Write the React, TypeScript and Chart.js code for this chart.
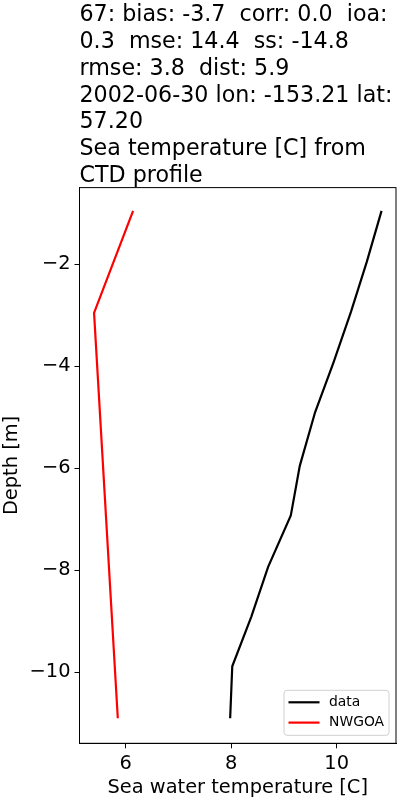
import React, { useEffect, useRef } from "react";
import { Chart, registerables } from "chart.js";

Chart.register(...registerables);

const titleLines = [
  "67: bias: -3.7  corr: 0.0  ioa:",
  "0.3  mse: 14.4  ss: -14.8",
  "rmse: 3.8  dist: 5.9",
  "2002-06-30 lon: -153.21 lat:",
  "57.20",
  "Sea temperature [C] from",
  "CTD profile",
];

const dataDepth = [-0.95, -1.95, -2.93, -3.92, -4.9, -5.95, -6.92, -7.93, -8.91, -9.88, -10.9];
const dataTemp = [10.85, 10.57, 10.27, 9.94, 9.59, 9.3, 9.13, 8.7, 8.38, 8.02, 7.98];
const modelDepth = [-0.95, -2.95, -10.9];
const modelTemp = [6.14, 5.4, 5.85];

const xTicks = [6, 8, 10];
const yTicks = [-10, -8, -6, -4, -2];
const xLabel = "Sea water temperature [C]";
const yLabel = "Depth [m]";
const seriesNames = ["data", "NWGOA"];
const seriesColors = ["#000000", "#ff0000"];

const FONT = "'DejaVu Sans', sans-serif";

const framePlugin = {
  id: "frame",
  afterDatasetsDraw(chart: any) {
    const { ctx, chartArea: a } = chart;
    ctx.save();
    ctx.strokeStyle = "#000";
    ctx.lineWidth = 1;
    ctx.strokeRect(a.left, a.top, a.right - a.left, a.bottom - a.top);

    // legend (lower right)
    const w = 105;
    const h = 45;
    const x0 = a.right - 7 - w;
    const y0 = a.bottom - 8 - h;
    const r = 3;
    ctx.beginPath();
    ctx.moveTo(x0 + r, y0);
    ctx.lineTo(x0 + w - r, y0);
    ctx.quadraticCurveTo(x0 + w, y0, x0 + w, y0 + r);
    ctx.lineTo(x0 + w, y0 + h - r);
    ctx.quadraticCurveTo(x0 + w, y0 + h, x0 + w - r, y0 + h);
    ctx.lineTo(x0 + r, y0 + h);
    ctx.quadraticCurveTo(x0, y0 + h, x0, y0 + h - r);
    ctx.lineTo(x0, y0 + r);
    ctx.quadraticCurveTo(x0, y0, x0 + r, y0);
    ctx.closePath();
    ctx.fillStyle = "rgba(255,255,255,0.8)";
    ctx.fill();
    ctx.strokeStyle = "#d0d0d0";
    ctx.stroke();

    ctx.font = `13.9px ${FONT}`;
    ctx.textBaseline = "middle";
    ctx.textAlign = "left";
    chart.data.datasets.forEach((ds: any, i: number) => {
      const yy = y0 + 12 + i * 20.3;
      ctx.strokeStyle = ds.borderColor;
      ctx.lineWidth = 2.2;
      ctx.beginPath();
      ctx.moveTo(x0 + 4.5, yy);
      ctx.lineTo(x0 + 35.5, yy);
      ctx.stroke();
      ctx.fillStyle = "#000";
      ctx.fillText(ds.label, x0 + 45, yy);
    });
    ctx.restore();
  },
};

export default function App() {
  const ref = useRef<HTMLCanvasElement | null>(null);

  useEffect(() => {
    if (!ref.current) return;
    const fmt = (v: number) => String(v).replace("-", "\u2212");
    const chart = new Chart(ref.current, {
      type: "scatter",
      data: {
        datasets: [
          {
            label: seriesNames[0],
            data: dataDepth.map((d, i) => ({ x: dataTemp[i], y: d })),
            showLine: true,
            borderColor: seriesColors[0],
            backgroundColor: seriesColors[0],
            borderWidth: 2.2,
            pointRadius: 0,
            tension: 0,
          },
          {
            label: seriesNames[1],
            data: modelDepth.map((d, i) => ({ x: modelTemp[i], y: d })),
            showLine: true,
            borderColor: seriesColors[1],
            backgroundColor: seriesColors[1],
            borderWidth: 2.2,
            pointRadius: 0,
            tension: 0,
          },
        ],
      },
      options: {
        responsive: false,
        animation: false,
        layout: { padding: { left: 0, right: 4, top: 0, bottom: 0 } },
        plugins: {
          legend: { display: false },
          tooltip: { enabled: false },
          title: {
            display: true,
            text: titleLines,
            align: "start",
            fullSize: false,
            color: "#000",
            font: { family: FONT, size: 22.2, weight: "normal", lineHeight: 26.8 / 22.2 },
            padding: { top: 2, bottom: -2 },
          },
        },
        scales: {
          x: {
            type: "linear",
            min: 5.124,
            max: 11.124,
            afterBuildTicks: (s: any) => {
              s.ticks = xTicks.map((v) => ({ value: v }));
            },
            afterFit: (s: any) => {
              s.height = 56.7;
            },
            ticks: {
              color: "#000",
              font: { family: FONT, size: 19.4 },
              padding: 4,
              maxRotation: 0,
              callback: (v: any) => fmt(v),
            },
            grid: {
              display: true,
              drawOnChartArea: false,
              drawTicks: true,
              tickLength: 5,
              tickColor: "#000",
            },
            border: { display: true, color: "#000", width: 1 },
            title: {
              display: true,
              text: xLabel,
              color: "#000",
              font: { family: FONT, size: 19.4 },
              padding: { top: 0, bottom: 0 },
            },
          },
          y: {
            type: "linear",
            min: -11.39,
            max: -0.494,
            afterBuildTicks: (s: any) => {
              s.ticks = yTicks.map((v) => ({ value: v }));
            },
            afterFit: (s: any) => {
              s.width = 79.5;
            },
            ticks: {
              color: "#000",
              font: { family: FONT, size: 19.4 },
              padding: 4,
              callback: (v: any) => fmt(v),
            },
            grid: {
              display: true,
              drawOnChartArea: false,
              drawTicks: true,
              tickLength: 5,
              tickColor: "#000",
            },
            border: { display: true, color: "#000", width: 1 },
            title: {
              display: true,
              text: yLabel,
              color: "#000",
              font: { family: FONT, size: 19.4 },
              padding: { top: 0, bottom: 0 },
            },
          },
        },
      },
      plugins: [framePlugin],
    } as any);
    return () => chart.destroy();
  }, []);

  return (
    <div style={{ position: "fixed", left: 0, top: 0, width: 400, height: 800, background: "#fff" }}>
      <canvas ref={ref} width={400} height={800} style={{ display: "block" }} />
    </div>
  );
}
